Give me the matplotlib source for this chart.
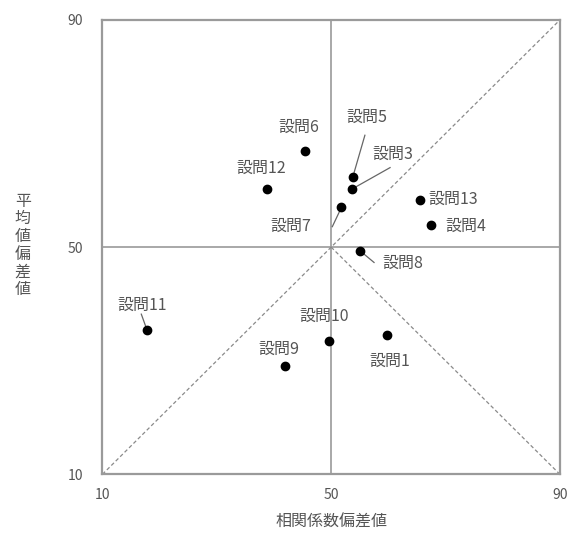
import matplotlib
matplotlib.use("Agg")
import matplotlib.pyplot as plt

plt.rcParams['font.family'] = ['Noto Sans CJK JP', 'DejaVu Sans']

labels = ["設問1", "設問3", "設問4", "設問5", "設問6", "設問7", "設問8",
          "設問9", "設問10", "設問11", "設問12", "設問13"]
corr_dev = [59.8, 53.6, 67.5, 53.8, 45.5, 51.8, 55.0, 42.0, 49.7, 17.8, 38.7, 65.5]
mean_dev = [34.5, 60.2, 53.9, 62.4, 66.9, 57.0, 49.4, 29.0, 33.5, 35.4, 60.2, 58.3]

# label text positions (data coords) and whether a leader line is drawn
label_pos = {
    "設問1": (60.3, 29.9), "設問3": (60.8, 66.4), "設問4": (73.6, 53.7),
    "設問5": (56.2, 72.8), "設問6": (44.4, 71.1), "設問7": (42.9, 53.7),
    "設問8": (62.5, 47.2), "設問9": (40.8, 32.0), "設問10": (48.8, 37.9),
    "設問11": (16.9, 39.8), "設問12": (37.7, 63.9), "設問13": (71.3, 58.5),
}
leaders = {
    "設問5": (55.9, 69.7), "設問3": (60.3, 64.0), "設問7": (50.2, 53.6),
    "設問8": (57.5, 47.3), "設問11": (16.8, 38.2),
}

xticks = [10, 50, 90]
yticks = [10, 50, 90]

gray = "#9a9a9a"
textc = "#555555"

fig = plt.figure(figsize=(5.69, 5.39), dpi=100)
ax = fig.add_axes([0.180, 0.120, 0.804, 0.843])
ax.set_xlim(10, 90)
ax.set_ylim(10, 90)

ax.axvline(50, color=gray, lw=1.2, zorder=1)
ax.axhline(50, color=gray, lw=1.2, zorder=1)
ax.plot([10, 90], [10, 90], ls=(0, (3, 2)), color="#8a8a8a", lw=0.9, zorder=1)
ax.plot([50, 90], [50, 10], ls=(0, (3, 2)), color="#8a8a8a", lw=0.9, zorder=1)

ax.scatter(corr_dev, mean_dev, s=36, color="black", zorder=3)

for lab, x, y in zip(labels, corr_dev, mean_dev):
    tx, ty = label_pos[lab]
    ax.text(tx, ty, lab, ha="center", va="center", fontsize=11.5, color=textc, zorder=4)
    if lab in leaders:
        lx, ly = leaders[lab]
        ax.plot([lx, x], [ly, y], color="#666666", lw=0.9, zorder=2)

for sp in ax.spines.values():
    sp.set_color(gray)
    sp.set_linewidth(1.6)

ax.set_xticks(xticks)
ax.set_yticks(yticks)
ax.set_xticklabels([str(t) for t in xticks])
ax.set_yticklabels([str(t) for t in yticks])
ax.tick_params(length=0, colors=textc, labelsize=10)
ax.tick_params(axis="x", pad=10)
ax.tick_params(axis="y", pad=14)

ax.set_xlabel("相関係数偏差値", fontsize=11.5, color=textc, labelpad=8)
fig.text(0.040, 0.545, "\n".join("平均値偏差値"), fontsize=11.5, color=textc,
         ha="center", va="center", linespacing=1.05)

fig.savefig("out.png", dpi=100)
